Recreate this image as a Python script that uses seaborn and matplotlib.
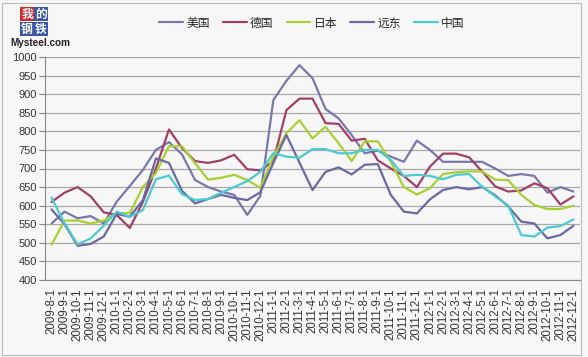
import matplotlib
matplotlib.use("Agg")
import pandas as pd
import matplotlib.pyplot as plt
import seaborn as sns
from matplotlib.lines import Line2D
from matplotlib.patches import Rectangle

# ---- data ----
dates = ["2009-8-1", "2009-9-1", "2009-10-1", "2009-11-1", "2009-12-1",
         "2010-1-1", "2010-2-1", "2010-3-1", "2010-4-1", "2010-5-1", "2010-6-1",
         "2010-7-1", "2010-8-1", "2010-9-1", "2010-10-1", "2010-11-1", "2010-12-1",
         "2011-1-1", "2011-2-1", "2011-3-1", "2011-4-1", "2011-5-1", "2011-6-1",
         "2011-7-1", "2011-8-1", "2011-9-1", "2011-10-1", "2011-11-1", "2011-12-1",
         "2012-1-1", "2012-2-1", "2012-3-1", "2012-4-1", "2012-5-1", "2012-6-1",
         "2012-7-1", "2012-8-1", "2012-9-1", "2012-10-1", "2012-11-1", "2012-12-1"]

usa = [552, 584, 566, 572, 552, 611, 653, 696, 750, 771, 738, 669, 650, 638,
       629, 575, 626, 884, 936, 978, 943, 860, 835, 790, 741, 748, 732, 718,
       775, 750, 718, 718, 718, 718, 700, 680, 685, 680, 635, 650, 638]
germany = [610, 635, 650, 625, 582, 575, 540, 610, 700, 805, 755, 720, 715, 722,
           737, 698, 695, 720, 857, 888, 888, 822, 820, 775, 780, 722, 700, 680,
           650, 705, 740, 740, 730, 692, 652, 638, 641, 660, 647, 603, 625]
japan = [495, 560, 560, 552, 560, 580, 580, 650, 688, 760, 760, 714, 670, 675,
         683, 669, 648, 732, 795, 830, 781, 812, 768, 720, 773, 773, 718, 650,
         630, 647, 685, 690, 692, 692, 670, 669, 629, 602, 591, 591, 600]
fareast = [590, 550, 492, 497, 517, 578, 570, 615, 727, 715, 640, 606, 618, 629,
           621, 615, 636, 715, 790, 716, 642, 691, 703, 684, 710, 712, 629, 584,
           579, 617, 642, 650, 644, 650, 628, 598, 557, 552, 512, 521, 546]
china = [622, 552, 496, 512, 546, 584, 570, 588, 671, 681, 631, 615, 618, 635,
         650, 666, 691, 741, 732, 729, 752, 752, 741, 741, 750, 750, 723, 680,
         683, 680, 671, 683, 685, 651, 625, 600, 521, 517, 541, 545, 563]

names = ["美国", "德国", "日本", "远东", "中国"]
colors = ["#7878AC", "#A23F66", "#A8D030", "#6A6AA2", "#4CCAD2"]

df = pd.DataFrame({"date": dates, "美国": usa, "德国": germany, "日本": japan,
                   "远东": fareast, "中国": china})
long_df = df.melt(id_vars="date", var_name="series", value_name="price")

# ---- plot ----
sns.set_style("white")
plt.rcParams["font.family"] = ["Liberation Sans", "DejaVu Sans"]
bg = "#F7F7F7"

fig = plt.figure(figsize=(5.88, 3.57), dpi=100, facecolor=bg)
ax = fig.add_axes([45 / 588, 1 - 280 / 357, (580 - 45) / 588, (280 - 57) / 357])
ax.set_facecolor(bg)

sns.lineplot(data=long_df, x="date", y="price", hue="series", hue_order=names,
             palette=colors, linewidth=1.6, sort=False, legend=False, ax=ax)

ax.set_xlim(-0.5, len(dates) - 0.5)
ax.set_ylim(400, 1000)
ax.set_yticks(range(400, 1001, 50))
ax.grid(axis="y", color="#A8A8A8", linewidth=0.9)
ax.set_axisbelow(True)
ax.set_xlabel("")
ax.set_ylabel("")

ax.set_xticks(range(len(dates)))
ax.set_xticklabels(dates, rotation=90, fontsize=8.3, color="#333333")
ax.set_xticks([i - 0.5 for i in range(len(dates) + 1)], minor=True)
ax.tick_params(axis="x", which="major", length=0, pad=6)
ax.tick_params(axis="x", which="minor", length=4, color="#888888", width=0.8)
ax.tick_params(axis="y", length=4, color="#888888", width=0.8, labelsize=8,
               labelcolor="#333333", left=True, pad=2)

for side in ["top", "right"]:
    ax.spines[side].set_visible(False)
for side in ["left", "bottom"]:
    ax.spines[side].set_color("#888888")
    ax.spines[side].set_linewidth(0.8)

# legend on top
handles = [Line2D([0], [0], color=c, linewidth=1.6) for c in colors]
fig.legend(handles, names, loc="center", bbox_to_anchor=(312 / 588, 1 - 23 / 357),
           ncol=5, frameon=False, handlelength=2.0, handletextpad=0.3,
           columnspacing=1.1, prop={"family": ["Noto Sans CJK SC", "DejaVu Sans"], "size": 8.5})

# Mysteel logo
cjk = ["Noto Sans CJK SC", "DejaVu Sans"]
logo = [("我", 27, 14, "#D8262C"), ("的", 41, 14, "#3A56A8"),
        ("钢", 27, 29, "#3A56A8"), ("铁", 41, 29, "#3A56A8")]
for ch, x, y, c in logo:
    fig.text(x / 588, 1 - y / 357, ch, family=cjk, fontsize=8.5, color="white",
             ha="center", va="center", fontweight="bold",
             bbox=dict(boxstyle="square,pad=0.06", facecolor=c, edgecolor="none"))
fig.text(10 / 588, 1 - 43 / 357, "Mysteel.com", fontsize=7.2, fontweight="bold",
         color="#222222", ha="left", va="center")

# chart frame
fig.patches.append(Rectangle((2 / 588, 2 / 357), 579 / 588, 352 / 357,
                             transform=fig.transFigure, fill=False,
                             edgecolor="#BBBBBB", linewidth=0.8))

fig.savefig("out.png", dpi=100, facecolor=bg)
